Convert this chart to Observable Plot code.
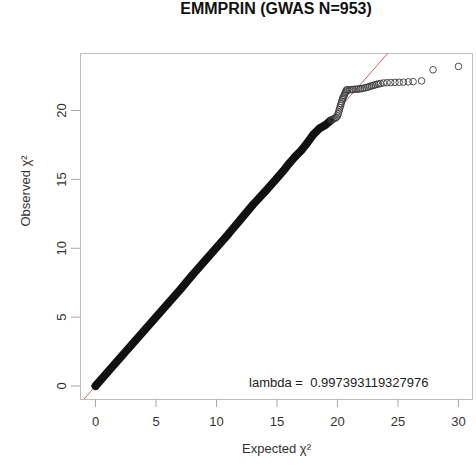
<!DOCTYPE html>
<html>
<head>
<meta charset="utf-8">
<script src="https://cdn.jsdelivr.net/npm/d3@7"></script>
<script src="https://cdn.jsdelivr.net/npm/@observablehq/plot@0.6"></script>
<style>
  html, body { margin: 0; padding: 0; background: #fff; }
  #title { box-sizing: border-box; width: 476px; height: 36px; line-height: 36px; padding-left: 80px; padding-right: 4px;
    text-align: center; font: bold 16px "Liberation Sans", Arial, sans-serif; color: #111; }
  svg { display: block; }
</style>
</head>
<body>
<div id="title"></div>
<div id="chart"></div>
<script>
const title = "EMMPRIN (GWAS N=953)";
const xLabel = "Expected \u03C7\u00B2";
const yLabel = "Observed \u03C7\u00B2";
const lambdaText = "lambda =  0.997393119327976";
const xTicks = [0, 5, 10, 15, 20, 25, 30];
const yTicks = [0, 5, 10, 15, 20];

// dense part of the QQ curve (overlapping circles form a solid band)
const bandExpected = [0, 1, 2, 3, 4, 5, 6, 7, 8, 9, 10, 11, 12, 13, 14, 15, 15.5, 16, 16.5, 17, 17.5, 18, 18.5, 19, 19.4];
const bandObserved = [0, 1.0, 2.0, 3.0, 4.0, 5.0, 6.0, 7.0, 8.05, 9.05, 10.05, 11.05, 12.1, 13.15, 14.1, 15.1, 15.6, 16.15, 16.65, 17.1, 17.65, 18.25, 18.7, 18.95, 19.25];

// sparse upper tail (individual circles)
const tailExpected = [19.5, 19.6, 19.7, 19.8, 19.9, 20.0, 20.05, 20.1, 20.15, 20.2, 20.25, 20.3, 20.35, 20.4, 20.45, 20.5, 20.55, 20.6, 20.65, 20.7, 20.75,
  20.85, 21.0, 21.15, 21.3, 21.45, 21.6, 21.75, 21.9, 22.05, 22.2, 22.35, 22.5, 22.65, 22.8, 22.95, 23.1, 23.25, 23.4, 23.55,
  23.8, 24.1, 24.4, 24.75, 25.1, 25.45, 25.85, 26.25, 26.95, 27.9, 30.0];
const tailObserved = [19.3, 19.35, 19.4, 19.45, 19.5, 19.6, 19.75, 19.9, 20.05, 20.2, 20.35, 20.5, 20.65, 20.8, 20.9, 21.0, 21.1, 21.2, 21.3, 21.4, 21.5,
  21.5, 21.5, 21.52, 21.53, 21.55, 21.55, 21.56, 21.58, 21.6, 21.63, 21.66, 21.7, 21.74, 21.78, 21.82, 21.86, 21.9, 21.93, 21.96,
  22.0, 22.02, 22.03, 22.04, 22.05, 22.06, 22.08, 22.1, 22.15, 22.96, 23.2];

const xDomain = [-1.24, 31.16];
const yDomain = [-0.98, 24.14];

const band = bandExpected.map((e, i) => ({expected: e, observed: bandObserved[i]}));
const tail = tailExpected.map((e, i) => ({expected: e, observed: tailObserved[i]}));

document.getElementById("title").textContent = title;

const font = "Liberation Sans, Arial, sans-serif";
const chart = Plot.plot({
  width: 476,
  height: 434,
  marginTop: 17,
  marginBottom: 71,
  marginLeft: 80,
  marginRight: 4,
  style: {fontFamily: font, fontSize: "13px", background: "#fff", color: "#333"},
  x: {domain: xDomain},
  y: {domain: yDomain},
  marks: [
    Plot.frame({stroke: "#bdbdbd"}),
    Plot.axisX(xTicks, {tickSize: 8, tickPadding: 9, stroke: "#a8a8a8", fill: "#333", fontSize: 13, label: null}),
    Plot.axisY(yTicks, {tickSize: 9, tickPadding: 6, tickRotate: -90, stroke: "#a8a8a8", fill: "#333", fontSize: 13, label: null}),
    Plot.line(xDomain, {x: d => d, y: d => d, stroke: "#d46060", strokeWidth: 1, clip: true}),
    Plot.line(band, {x: "expected", y: "observed", stroke: "#121010", strokeWidth: 8, strokeLinecap: "round", strokeLinejoin: "round"}),
    Plot.dot(band, {x: "expected", y: "observed", r: 3.3, stroke: "#121010", strokeWidth: 1}),
    Plot.dot(tail, {x: "expected", y: "observed", r: 3.3, stroke: "#3c3c3c", strokeWidth: 0.9}),
    Plot.text([lambdaText], {text: d => d, frameAnchor: "bottom-right", textAnchor: "end", dx: -44, dy: -13, fontSize: 13, fill: "#222"}),
    Plot.text([xLabel], {text: d => d, frameAnchor: "bottom", dy: 53, fontSize: 13, fill: "#333"}),
    Plot.text([yLabel], {text: d => d, frameAnchor: "left", dx: -55, rotate: -90, fontSize: 13, fill: "#333"})
  ]
});
document.getElementById("chart").appendChild(chart);
</script>
</body>
</html>
